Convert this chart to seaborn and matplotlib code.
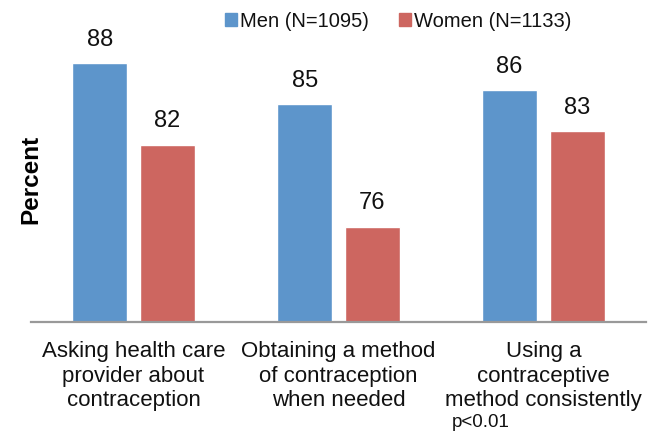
import pandas as pd
import matplotlib
matplotlib.use('Agg')
import matplotlib.pyplot as plt
import seaborn as sns

# Chart data
categories = ['Asking health care\nprovider about\ncontraception',
              'Obtaining a method\nof contraception\nwhen needed',
              'Using a\ncontraceptive\nmethod consistently']
groups = ['Men (N=1095)', 'Women (N=1133)']
men_values = [88, 85, 86]
women_values = [82, 76, 83]

group_colors = {'Men (N=1095)': '#5D95CB', 'Women (N=1133)': '#CD6660'}

df = pd.DataFrame({
    'Category': categories * 2,
    'Group': [groups[0]] * 3 + [groups[1]] * 3,
    'Percent': men_values + women_values,
})

sns.set_style('white')
plt.rcParams['font.family'] = ['Liberation Sans', 'DejaVu Sans']

fig = plt.figure(figsize=(6.49, 4.38), dpi=100)
ax = fig.add_axes([31 / 649, (438 - 322) / 438, 615 / 649, 286 / 438])

sns.barplot(data=df, x='Category', y='Percent', hue='Group', palette=group_colors,
            width=0.66, gap=0.18, saturation=1, ax=ax, legend=False)

# value labels above bars
for container in ax.containers:
    ax.bar_label(container, fmt='%d', padding=9, fontsize=17, color='#111111')

ax.set_ylim(69, 90)
ax.set_xlim(-0.5, 2.5)
ax.set_xlabel('')
ax.set_ylabel('Percent', fontsize=17.5, fontweight='bold', color='black')
ax.yaxis.set_label_coords(0.018, 0.5)
ax.set_yticks([])

for side in ['left', 'right', 'top']:
    ax.spines[side].set_visible(False)
ax.spines['bottom'].set_color('#999999')
ax.spines['bottom'].set_linewidth(1.6)

ax.tick_params(axis='x', length=0, pad=14, labelsize=16, labelcolor='#111111')
for lbl in ax.get_xticklabels():
    lbl.set_linespacing(1.2)

# legend at the top
handles = [plt.Rectangle((0, 0), 1, 1, color=group_colors[g]) for g in groups]
fig.legend(handles, groups, loc='center', bbox_to_anchor=(0.614, 0.951), ncol=2,
           frameon=False, fontsize=14.5, handlelength=0.6, handleheight=0.6,
           handletextpad=0.15, columnspacing=1.5, labelcolor='#111111')

fig.text(452 / 649, 1 - 427 / 438, 'p<0.01', fontsize=13.5, va='baseline', ha='left',
         color='#111111')

fig.savefig('out.png', dpi=100)
